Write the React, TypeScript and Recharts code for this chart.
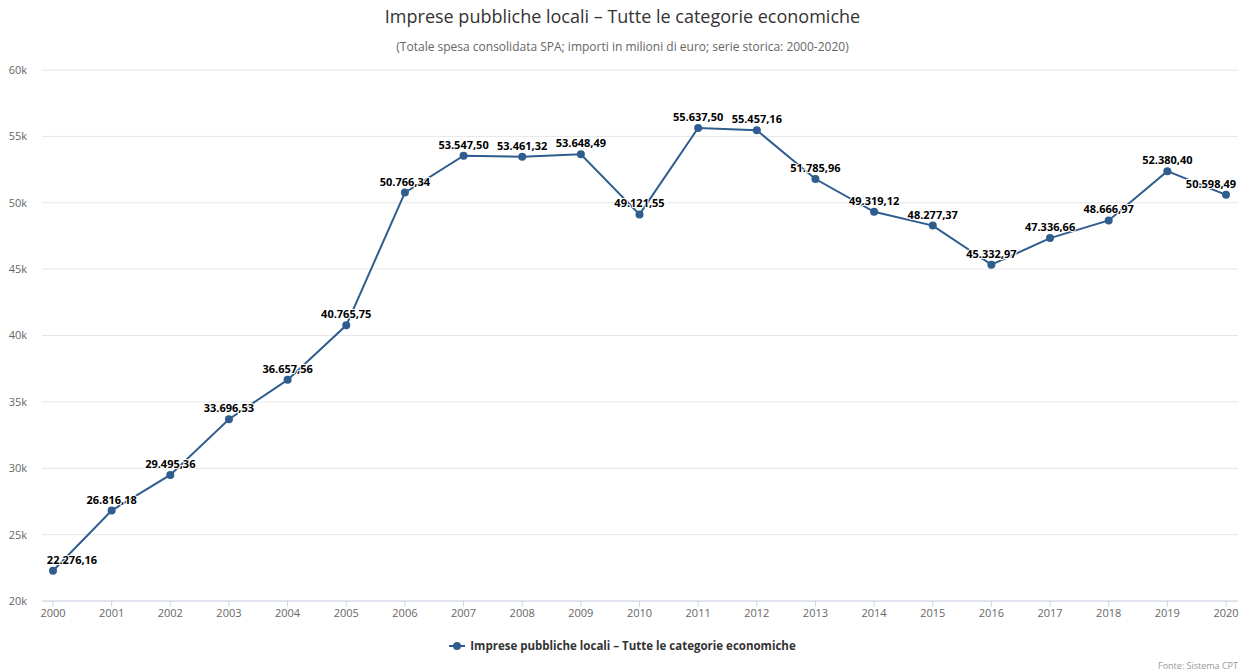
import { CartesianGrid, LabelList, Line, LineChart, XAxis, YAxis } from "recharts"

const years = [
  "2000", "2001", "2002", "2003", "2004", "2005", "2006", "2007", "2008", "2009", "2010",
  "2011", "2012", "2013", "2014", "2015", "2016", "2017", "2018", "2019", "2020",
]
const spesa = [
  22276.16, 26816.18, 29495.36, 33696.53, 36657.56, 40765.75, 50766.34, 53547.5, 53461.32,
  53648.49, 49121.55, 55637.5, 55457.16, 51785.96, 49319.12, 48277.37, 45332.97, 47336.66,
  48666.97, 52380.4, 50598.49,
]
const yTicks = [20000, 25000, 30000, 35000, 40000, 45000, 50000, 55000, 60000]

const seriesName = "Imprese pubbliche locali – Tutte le categorie economiche"
const lineColor = "#2f5d8f"
const font = "'Open Sans', 'DejaVu Sans', sans-serif"

const data = years.map((year, i) => ({ year, value: spesa[i] }))

// formato italiano: 53.547,50
function fmt(v: number) {
  const [int, dec] = v.toFixed(2).split(".")
  return int.replace(/\B(?=(\d{3})+(?!\d))/g, ".") + "," + dec
}

// etichette tenute dentro l'area del grafico, come fa Highcharts
function PointLabel(props: any) {
  const { x, y, value } = props
  const half = 27
  let cx = x
  if (cx - half < 45) cx = 45 + half
  if (cx + half > 1238) cx = 1238 - half
  return (
    <text
      x={cx}
      y={y - 7}
      textAnchor="middle"
      fontFamily={font}
      fontSize={11}
      fontWeight="bold"
      fill="#000"
      stroke="#fff"
      strokeWidth={2}
      strokeLinejoin="round"
      paintOrder="stroke"
    >
      {fmt(value)}
    </text>
  )
}

export default function App() {
  return (
    <div style={{ position: "absolute", left: 0, top: 0, width: 1245, height: 672, background: "#fff", fontFamily: font }}>
      <div style={{ position: "absolute", top: 4, width: "100%", textAlign: "center", fontSize: 18, color: "#333" }}>
        Imprese pubbliche locali – Tutte le categorie economiche
      </div>
      <div style={{ position: "absolute", top: 38, width: "100%", textAlign: "center", fontSize: 12, color: "#666" }}>
        (Totale spesa consolidata SPA; importi in milioni di euro; serie storica: 2000-2020)
      </div>
      <LineChart width={1245} height={672} data={data} margin={{ top: 70, right: 7, bottom: 41, left: 0 }}>
        <CartesianGrid vertical={false} stroke="#e6e6e6" />
        <XAxis
          dataKey="year"
          height={30}
          padding={{ left: 11, right: 12 }}
          interval={0}
          stroke="#ccd6eb"
          tickSize={6}
          tickMargin={2}
          tick={{ fill: "#666", fontSize: 11, fontFamily: font }}
        />
        <YAxis
          width={42}
          domain={[20000, 60000]}
          ticks={yTicks}
          axisLine={false}
          tickLine={false}
          tickSize={0}
          tickMargin={15}
          tickFormatter={(v: number) => `${v / 1000}k`}
          tick={{ fill: "#666", fontSize: 11, fontFamily: font }}
        />
        <Line
          dataKey="value"
          name={seriesName}
          stroke={lineColor}
          strokeWidth={2}
          dot={{ r: 4, fill: lineColor, stroke: lineColor, strokeWidth: 0 }}
          isAnimationActive={false}
        >
          <LabelList dataKey="value" content={PointLabel} />
        </Line>
      </LineChart>
      <div
        style={{
          position: "absolute",
          top: 638,
          width: "100%",
          display: "flex",
          justifyContent: "center",
          alignItems: "center",
          fontSize: 11.5,
          fontWeight: "bold",
          color: "#333",
        }}
      >
        <svg width={16} height={12} style={{ marginRight: 5 }}>
          <line x1={0} y1={6} x2={16} y2={6} stroke={lineColor} strokeWidth={2} />
          <circle cx={8} cy={6} r={4} fill={lineColor} />
        </svg>
        {seriesName}
      </div>
      <div style={{ position: "absolute", right: 7, top: 659, fontSize: 9, color: "#999" }}>Fonte: Sistema CPT</div>
    </div>
  )
}
